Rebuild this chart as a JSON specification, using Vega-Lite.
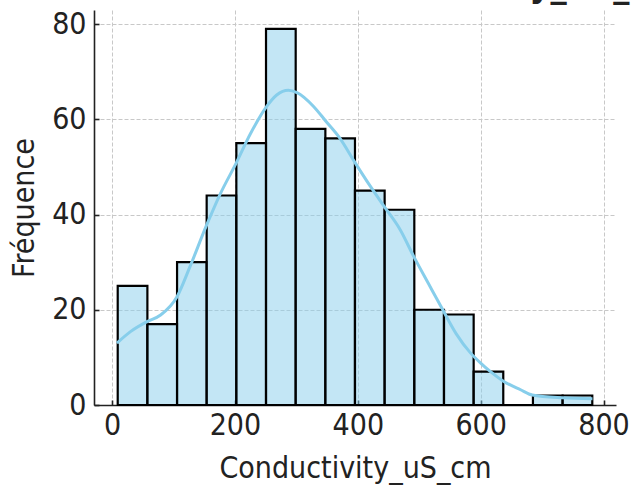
{
  "$schema": "https://vega.github.io/schema/vega-lite/v6.json",
  "width": 522,
  "height": 395,
  "autosize": "none",
  "padding": {"left": 94, "top": 10, "right": 23, "bottom": 86},
  "background": "white",
  "title": {
    "text": "Distribution de Conductivity_uS_cm",
    "anchor": "end",
    "align": "right",
    "dx": 53,
    "dy": 24,
    "baseline": "alphabetic",
    "offset": 0,
    "fontSize": 36,
    "fontWeight": "bold",
    "font": "DejaVu Sans Condensed",
    "color": "#222222"
  },
  "config": {
    "view": {"stroke": null},
    "font": "DejaVu Sans Condensed",
    "axis": {
      "domainColor": "#222222",
      "domainWidth": 1.6,
      "tickColor": "#222222",
      "tickWidth": 1.6,
      "tickSize": -5,
      "labelFontSize": 30,
      "labelColor": "#222222",
      "labelFont": "DejaVu Sans Condensed",
      "titleFont": "DejaVu Sans Condensed",
      "titleFontSize": 30,
      "titleFontWeight": "normal",
      "titleColor": "#222222",
      "grid": true,
      "gridColor": "#c8c8c8",
      "gridDash": [4, 2],
      "gridWidth": 1
    }
  },
  "datasets": {
    "bins": [
      {"start": 9.2, "end": 57.5, "count": 25},
      {"start": 57.5, "end": 105.8, "count": 17},
      {"start": 105.8, "end": 154.0, "count": 30},
      {"start": 154.0, "end": 202.3, "count": 44},
      {"start": 202.3, "end": 250.6, "count": 55},
      {"start": 250.6, "end": 298.9, "count": 79},
      {"start": 298.9, "end": 347.2, "count": 58},
      {"start": 347.2, "end": 395.4, "count": 56},
      {"start": 395.4, "end": 443.7, "count": 45},
      {"start": 443.7, "end": 492.0, "count": 41},
      {"start": 492.0, "end": 540.3, "count": 20},
      {"start": 540.3, "end": 588.6, "count": 19},
      {"start": 588.6, "end": 636.8, "count": 7},
      {"start": 636.8, "end": 685.1, "count": 0},
      {"start": 685.1, "end": 733.4, "count": 2},
      {"start": 733.4, "end": 781.7, "count": 2}
    ],
    "kde": [
      {"x": 8, "y": 13.0},
      {"x": 30, "y": 15.4},
      {"x": 57, "y": 17.5},
      {"x": 79, "y": 18.9},
      {"x": 106, "y": 22.8},
      {"x": 127, "y": 29.1},
      {"x": 153, "y": 37.5},
      {"x": 176, "y": 44.3},
      {"x": 202, "y": 50.8},
      {"x": 225, "y": 56.9},
      {"x": 250, "y": 62.4},
      {"x": 268, "y": 65.1},
      {"x": 287, "y": 66.1},
      {"x": 301, "y": 65.6},
      {"x": 328, "y": 62.7},
      {"x": 348, "y": 59.6},
      {"x": 371, "y": 56.0},
      {"x": 395, "y": 51.0},
      {"x": 420, "y": 46.0},
      {"x": 444, "y": 41.5},
      {"x": 469, "y": 36.8},
      {"x": 491, "y": 31.2},
      {"x": 515, "y": 25.5},
      {"x": 537, "y": 20.3},
      {"x": 560, "y": 15.0},
      {"x": 583, "y": 11.0},
      {"x": 600, "y": 8.8},
      {"x": 616, "y": 7.0},
      {"x": 637, "y": 5.0},
      {"x": 665, "y": 3.2},
      {"x": 684, "y": 2.1},
      {"x": 733, "y": 1.5},
      {"x": 782, "y": 1.3}
    ]
  },
  "layer": [
    {
      "data": {"name": "bins"},
      "mark": {"type": "rect", "fill": "#87CEEB", "fillOpacity": 0.5, "stroke": "#000000", "strokeWidth": 2.2},
      "encoding": {
        "x": {
          "field": "start",
          "type": "quantitative",
          "scale": {"domain": [-29.4, 820.3], "nice": false, "zero": false},
          "axis": {"values": [0, 200, 400, 600, 800], "title": "Conductivity_uS_cm", "labelPadding": 10, "titlePadding": 13}
        },
        "x2": {"field": "end"},
        "y": {
          "field": "count",
          "type": "quantitative",
          "scale": {"domain": [0, 82.95], "nice": false},
          "axis": {"values": [0, 20, 40, 60, 80], "title": "Fréquence", "labelPadding": 13, "titlePadding": 12}
        },
        "y2": {"datum": 0}
      }
    },
    {
      "data": {"name": "kde"},
      "mark": {"type": "line", "color": "#87CEEB", "strokeWidth": 3, "interpolate": "monotone"},
      "encoding": {
        "x": {"field": "x", "type": "quantitative"},
        "y": {"field": "y", "type": "quantitative"}
      }
    }
  ]
}
